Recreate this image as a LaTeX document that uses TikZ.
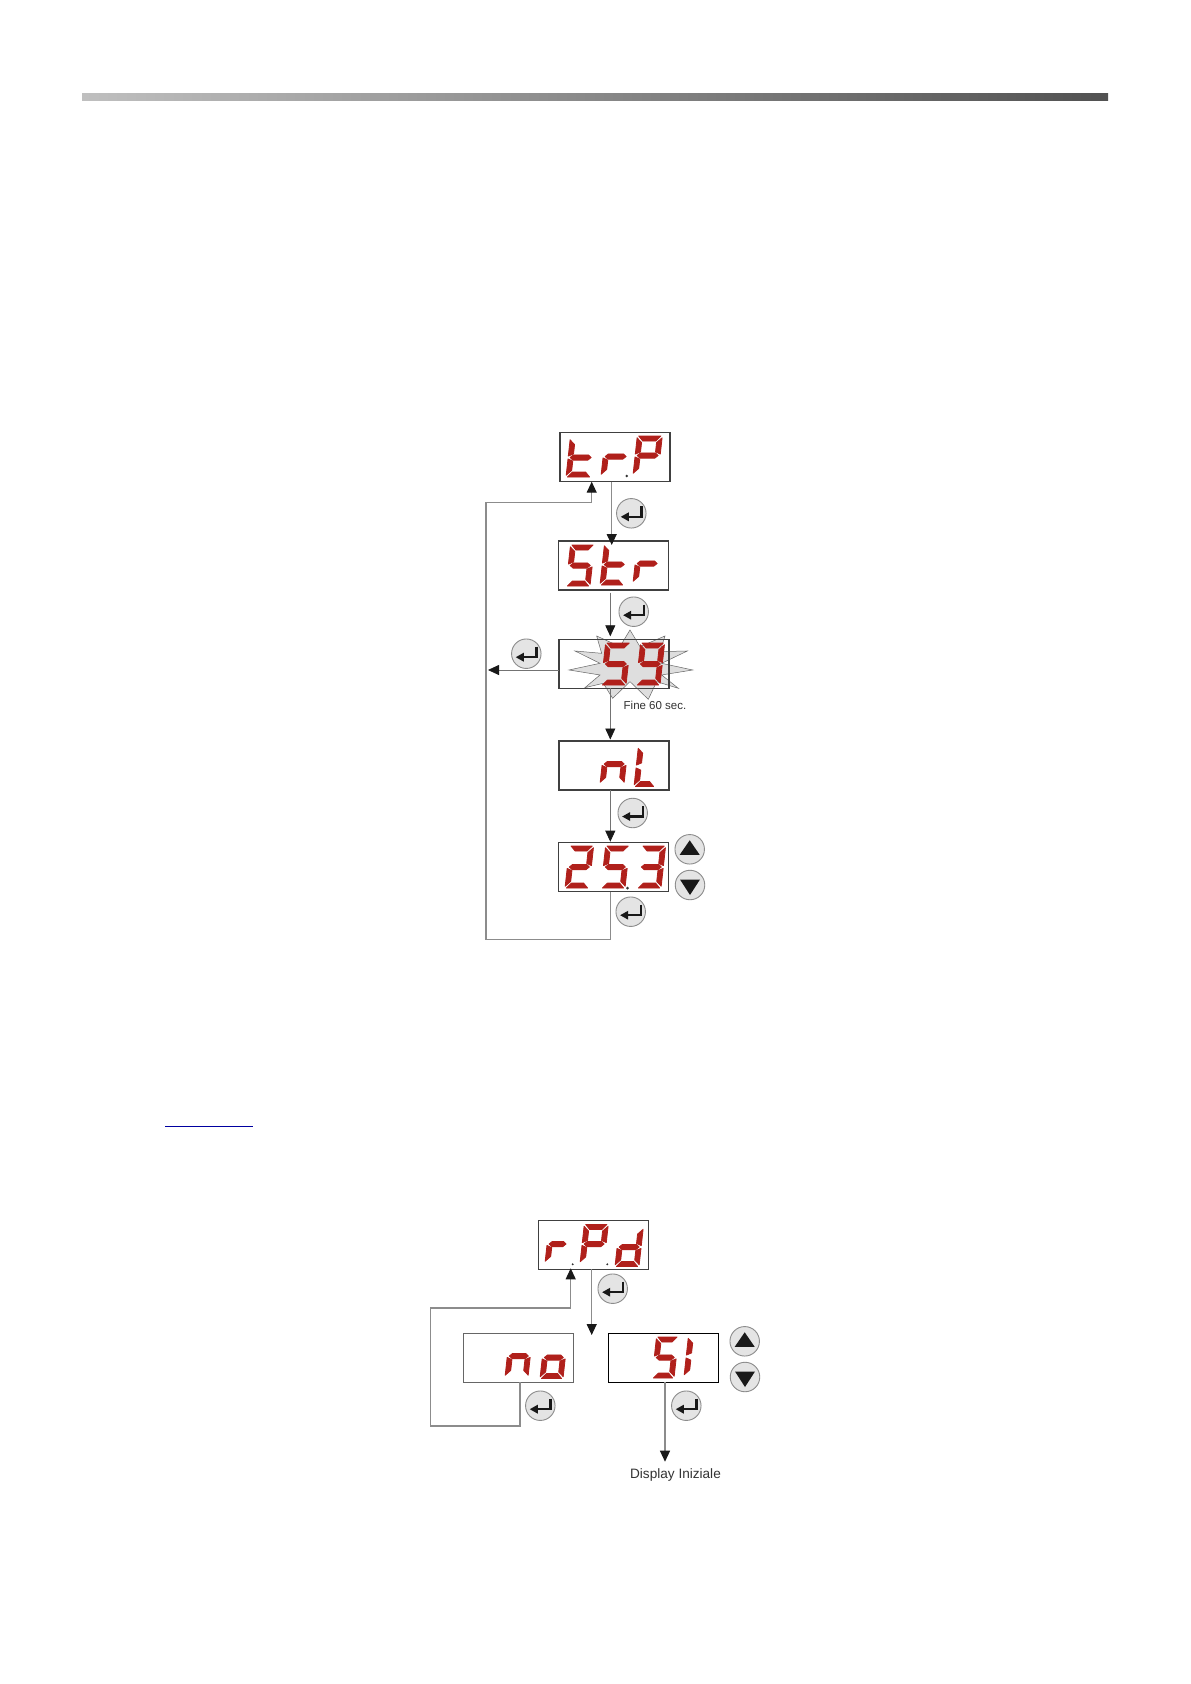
\documentclass[tikz,border=0pt]{standalone}
\usepackage{fontspec}
\setmainfont{Liberation Sans}
\usetikzlibrary{arrows.meta,calc,shapes.geometric}
\definecolor{segred}{HTML}{B0201B}
\definecolor{wire}{HTML}{8C8C8C}
\definecolor{btnfill}{HTML}{E4E4E4}
\definecolor{linkblue}{HTML}{0000A0}
\tikzset{
  x=1pt,y=-1pt,
  dispbox/.style={draw=#1,line width=1.05pt,minimum width=110pt,minimum height=49pt,inner sep=0pt,outer sep=0pt,anchor=north west},
  dispbox/.default={black!75},
  wireline/.style={draw=wire,line width=1.2pt},
  thinwire/.style={draw=black!55,line width=0.8pt},
  tip/.style={-{Triangle[length=11pt,width=10pt,color=black!90]}},
  btn/.style={circle,draw=black!45,fill=btnfill,line width=0.9pt,minimum size=29.5pt,inner sep=0pt,outer sep=0pt},
  label/.style={inner sep=0pt,text=black!80},
  segm/.style={fill=segred,draw=segred,line width=0.8pt,line join=round},
}
% seven-segment digit: x, baseline y, W, H, segments
\newcommand{\segA}{\path[segm] (1.4,-\dH) -- (\dW-1.4,-\dH) -- (\dW-6,-\dH+5) -- (6,-\dH+5) -- cycle;}
\newcommand{\segD}{\path[segm] (1.4,0) -- (\dW-1.4,0) -- (\dW-6,-5) -- (6,-5) -- cycle;}
\newcommand{\segG}{\path[segm] (2,-\dH/2) -- (5,-\dH/2-2.6) -- (\dW-5,-\dH/2-2.6) -- (\dW-2,-\dH/2) -- (\dW-5,-\dH/2+2.6) -- (5,-\dH/2+2.6) -- cycle;}
\newcommand{\segF}{\path[segm] (0,-\dH+1.8) -- (5,-\dH+6.6) -- (5,-\dH/2-3.6) -- (0,-\dH/2-1.4) -- cycle;}
\newcommand{\segE}{\path[segm] (0,-1.8) -- (5,-6.6) -- (5,-\dH/2+3.6) -- (0,-\dH/2+1.4) -- cycle;}
\newcommand{\segB}{\path[segm] (\dW,-\dH+1.8) -- (\dW-5,-\dH+6.6) -- (\dW-5,-\dH/2-3.6) -- (\dW,-\dH/2-1.4) -- cycle;}
\newcommand{\segC}{\path[segm] (\dW,-1.8) -- (\dW-5,-6.6) -- (\dW-5,-\dH/2+3.6) -- (\dW,-\dH/2+1.4) -- cycle;}
\newcommand{\sevenseg}[5]{\begin{scope}[shift={(#1,#2)},xslant=0.11]\def\dW{#3}\def\dH{#4}#5\end{scope}}
\newcommand{\enterglyph}[1]{%
  \draw[line width=2.4pt,black!90] ($(#1)+(10,-7)$) -- ($(#1)+(10,3.5)$) -- ($(#1)+(-4,3.5)$);
  \fill[black!90] ($(#1)+(-10.5,3.5)$) -- ($(#1)+(-2.5,-1)$) -- ($(#1)+(-2.5,8)$) -- cycle;}
\begin{document}
\begin{tikzpicture}
\useasboundingbox (0,0) rectangle (1191,1684);
\fill[white] (0,0) rectangle (1191,1684);
% top bar and link rule
\shade[left color=black!25,right color=black!68] (82,93.3) rectangle (1108,100);
\draw[linkblue,line width=1.3pt] (165,1126.3) -- (252.7,1126.3);

% helper coordinates
\coordinate (ca) at (611.7,0);
\coordinate (cb) at (610.3,0);
\coordinate (lt) at (486,939.3);
\coordinate (lb) at (486,502.3);
\coordinate (lr) at (591.7,502.3);
\coordinate (lm) at (486,670);
\coordinate (rpdend) at (591.7,1335);
\coordinate (r1) at (520,1426);
\coordinate (r2) at (430.7,1426);
\coordinate (r3) at (430.7,1308);
\coordinate (r4) at (570.7,1308);
\coordinate (sitip) at (665,1461.7);

% burst
\begin{scope}[shift={(470,420)},x=0.3333pt,y=-0.3333pt]
\filldraw[fill=black!13,draw=black!60,line width=0.5pt]
 (480,630) -- (510,680) -- (585,648) -- (570,695) -- (652,693) -- (575,730) -- (668,750) -- (575,765) -- (625,805) -- (560,785) -- (535,838) -- (480,785) -- (428,835) -- (400,790) -- (345,803) -- (390,765) -- (297,750) -- (390,730) -- (315,693) -- (395,700) -- (380,648) -- (450,680) -- cycle;
\end{scope}

% displays
\node[dispbox] (trP) at (560,432.7) {};
\node[dispbox] (Str) at (558.3,541) {};
\node[dispbox] (fnn) at (559,639.3) {};
\node[dispbox] (nL) at (559,741) {};
\node[dispbox] (val) at (558.3,842.7) {};
\node[dispbox] (rPd) at (538.7,1220.3) {};
\node[dispbox={black!60},line width=0.9pt] (no) at (463.7,1333.3) {};
\node[dispbox={black},line width=1.5pt] (si) at (608.7,1333.3) {};

% connectors
\draw[wireline,tip,shorten >=-4pt] (trP.south -| ca) -- (Str.north -| ca);
\draw[thinwire,tip] ($(Str.south -| cb)+(0,2.5)$) -- ($(fnn.north -| cb)+(0,-3)$);
\draw[thinwire,tip] (fnn.south -| cb) -- ($(nL.north -| cb)+(0,-1.5)$);
\draw[thinwire,tip] (nL.south -| cb) -- ($(val.north -| cb)+(0,-1)$);
\draw[wireline,tip] (val.south -| cb) |- (lt) -- (lb) -- (lr) -- (trP.south -| lr);
\draw[thinwire,tip] (fnn.west |- lm) -- ($(lm)+(2,0)$);
\draw[wireline,tip] (rPd.south -| rpdend) -- (rpdend);
\draw[wireline,tip] (no.south -| r1) -- (r1) -- (r2) -- (r3) -- (r4) -- ($(rPd.south -| r4)+(0,-1)$);
\draw[wireline,tip] (si.south -| sitip) -- (sitip);

% digits: t r . P
\sevenseg{566}{477}{25}{39}{\segF\segE\segG\segD}
\sevenseg{601}{476}{25}{39}{\segE\segG}
\sevenseg{633}{475}{25}{39}{\segA\segB\segF\segG\segE}
\fill[black!80] (626.7,476) circle (1.3);
% S t r
\sevenseg{566}{586}{24}{41}{\segA\segF\segG\segC\segD}
\sevenseg{600}{585}{24}{41}{\segF\segE\segG\segD}
\sevenseg{633}{583}{24}{39}{\segE\segG}
% 5 9
\sevenseg{601}{685}{25}{42}{\segA\segF\segG\segC\segD}
\sevenseg{636}{685}{24}{42}{\segA\segB\segC\segD\segF\segG}
% n L
\sevenseg{600}{784}{24}{40}{\segE\segG\segC}
\sevenseg{634}{786.5}{21}{40}{\segF\segE\segD}
% 2 5 . 3
\sevenseg{565}{888}{24}{42}{\segA\segB\segG\segE\segD}
\sevenseg{601}{888}{24}{42}{\segA\segF\segG\segC\segD}
\sevenseg{637}{888}{24}{42}{\segA\segB\segG\segC\segD}
\fill[black!80] (627.5,888) circle (1.5);
% r . P . d
\sevenseg{545}{1263}{21}{38}{\segE\segG}
\sevenseg{580}{1263.5}{24}{39}{\segA\segB\segF\segG\segE}
\sevenseg{615}{1266.5}{24}{39}{\segB\segC\segD\segE\segG}
\fill[black!80] (572.7,1264.3) circle (1.1);
\fill[black!80] (607.3,1264.3) circle (1.1);
% n o
\sevenseg{505}{1377}{23}{42}{\segE\segG\segC}
\sevenseg{540}{1378.5}{23}{42}{\segE\segG\segC\segD}
% S I
\sevenseg{652}{1378}{22}{41}{\segA\segF\segG\segC\segD}
\sevenseg{684}{1376.5}{8}{40}{\segF\segE}

% buttons
\foreach \nm/\px/\py in {b1/631.3/513.3,b2/633.7/611.7,b3/526.3/653.7,b4/632.7/813,b5/630.7/911.7,b6/612.7/1288.7,b7/540.3/1405.7,b8/686.3/1405.7}{
  \node[btn] (\nm) at (\px,\py) {};
  \enterglyph{\nm}
}
\foreach \nm/\px/\py in {u1/689.7/849.3,u2/744.7/1341.3}{
  \node[btn] (\nm) at (\px,\py) {};
  \fill[black!90] ($(\nm)+(0,-9)$) -- ($(\nm)+(10,5.5)$) -- ($(\nm)+(-10,5.5)$) -- cycle;
}
\foreach \nm/\px/\py in {d1/690/885,d2/745/1377}{
  \node[btn] (\nm) at (\px,\py) {};
  \fill[black!90] ($(\nm)+(0,10)$) -- ($(\nm)+(10,-5.5)$) -- ($(\nm)+(-10,-5.5)$) -- cycle;
}

% labels
\node[label,font=\fontsize{11.5}{13}\selectfont] (fine) at (655,705) {Fine 60 sec.};
\node[label,font=\fontsize{13.6}{15}\selectfont] (disp) at (675.5,1475) {Display Iniziale};
\end{tikzpicture}
\end{document}
